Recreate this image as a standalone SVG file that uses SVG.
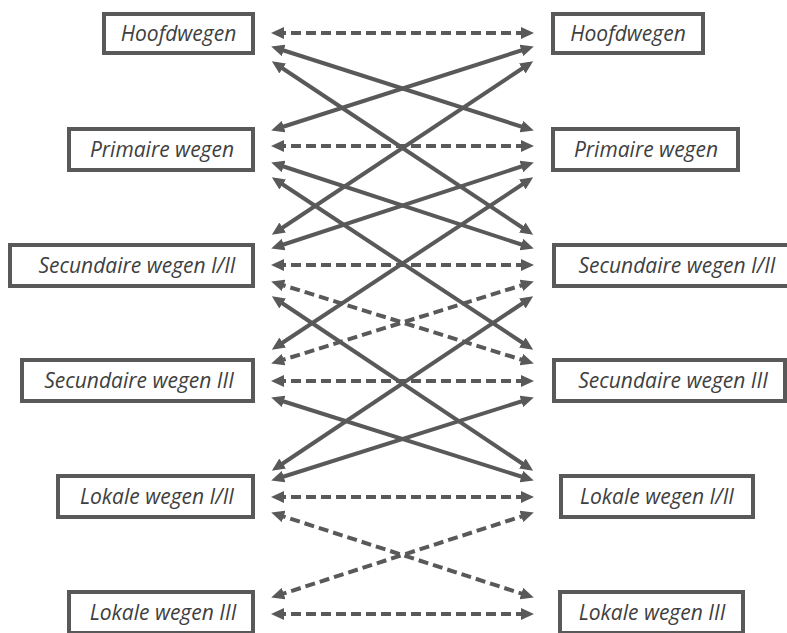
<svg xmlns="http://www.w3.org/2000/svg" width="787" height="633" viewBox="0 0 787 633">
  <style>
    .box { fill: #ffffff; stroke: #595959; stroke-width: 4; }
    .lbl { font-family: "Open Sans", "Liberation Sans", sans-serif; font-style: italic; font-size: 21px; fill: #404040; text-anchor: middle; }
    .link { fill: none; stroke: #595959; stroke-width: 4; marker-start: url(#head); marker-end: url(#head); }
    .dash { stroke-dasharray: 10 5; }
  </style>
  <defs>
    <marker id="head" viewBox="0 0 13 12" markerUnits="userSpaceOnUse" markerWidth="13" markerHeight="12" refX="8" refY="6" orient="auto-start-reverse">
      <path d="M0,0 L13,6 L0,12 Z" fill="#595959"/>
    </marker>
  </defs>

  <rect width="787" height="633" fill="#ffffff"/>

  <!-- left column -->
  <g id="l-hoofdwegen"><rect class="box" x="104" y="14" width="149" height="39"/><text class="lbl" x="178.5" y="40.5">Hoofdwegen</text></g>
  <g id="l-primaire"><rect class="box" x="69" y="129" width="184" height="41"/><text class="lbl" x="162" y="156.5">Primaire wegen</text></g>
  <g id="l-sec12"><rect class="box" x="10" y="245" width="243" height="41"/><text class="lbl" x="137" y="272.5">Secundaire wegen I/II</text></g>
  <g id="l-sec3"><rect class="box" x="22" y="360" width="231" height="41"/><text class="lbl" x="139" y="387.5">Secundaire wegen III</text></g>
  <g id="l-lok12"><rect class="box" x="58" y="476" width="195" height="41"/><text class="lbl" x="157" y="503.5">Lokale wegen I/II</text></g>
  <g id="l-lok3"><rect class="box" x="69" y="592" width="184" height="41"/><text class="lbl" x="163" y="619.5">Lokale wegen III</text></g>

  <!-- right column -->
  <g id="r-hoofdwegen"><rect class="box" x="553" y="14" width="150" height="39"/><text class="lbl" x="628" y="40.5">Hoofdwegen</text></g>
  <g id="r-primaire"><rect class="box" x="553" y="129" width="185" height="41"/><text class="lbl" x="646" y="156.5">Primaire wegen</text></g>
  <g id="r-sec12"><rect class="box" x="554" y="245" width="240" height="41"/><text class="lbl" x="677" y="272.5">Secundaire wegen I/II</text></g>
  <g id="r-sec3"><rect class="box" x="554" y="360" width="231" height="41"/><text class="lbl" x="673" y="387.5">Secundaire wegen III</text></g>
  <g id="r-lok12"><rect class="box" x="561" y="476" width="192" height="41"/><text class="lbl" x="657" y="503.5">Lokale wegen I/II</text></g>
  <g id="r-lok3"><rect class="box" x="560" y="592" width="183" height="41"/><text class="lbl" x="652" y="619.5">Lokale wegen III</text></g>

  <!-- connectors -->
  <g id="connectors">
    <line class="link dash" x1="276" y1="33" x2="529" y2="33"/>
    <line class="link" x1="276" y1="48" x2="529" y2="129"/>
    <line class="link" x1="276" y1="64" x2="529" y2="232"/>
    <line class="link" x1="529" y1="48" x2="276" y2="129"/>
    <line class="link" x1="529" y1="64" x2="276" y2="232"/>

    <line class="link dash" x1="276" y1="146" x2="529" y2="146"/>
    <line class="link" x1="276" y1="164" x2="529" y2="247"/>
    <line class="link" x1="276" y1="180" x2="529" y2="347"/>
    <line class="link" x1="529" y1="164" x2="276" y2="247"/>
    <line class="link" x1="529" y1="180" x2="276" y2="347"/>

    <line class="link dash" x1="276" y1="265" x2="529" y2="265"/>
    <line class="link dash" x1="276" y1="283" x2="529" y2="362"/>
    <line class="link dash" x1="529" y1="283" x2="276" y2="362"/>
    <line class="link" x1="276" y1="299" x2="529" y2="468"/>
    <line class="link" x1="529" y1="299" x2="276" y2="468"/>

    <line class="link dash" x1="276" y1="381" x2="529" y2="381"/>
    <line class="link" x1="276" y1="399" x2="529" y2="479"/>
    <line class="link" x1="529" y1="399" x2="276" y2="479"/>

    <line class="link dash" x1="276" y1="497" x2="529" y2="497"/>
    <line class="link dash" x1="276" y1="514" x2="529" y2="596"/>
    <line class="link dash" x1="529" y1="514" x2="276" y2="596"/>

    <line class="link dash" x1="276" y1="614" x2="529" y2="614"/>
  </g>
</svg>
